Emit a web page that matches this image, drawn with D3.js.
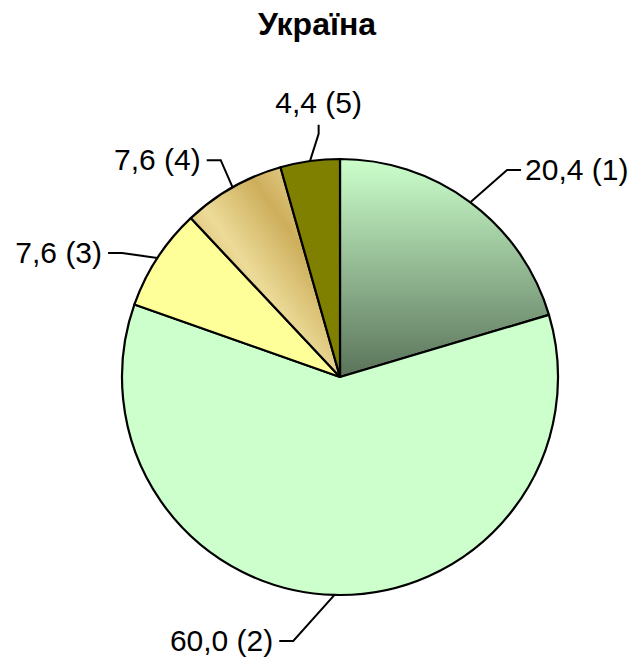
<!DOCTYPE html>
<html>
<head>
<meta charset="utf-8">
<script src="https://cdn.jsdelivr.net/npm/d3@7"></script>
<style>
  body { margin: 0; background: #fff; }
  svg { display: block; font-family: "Liberation Sans", Arial, sans-serif; }
</style>
</head>
<body>
<div id="chart"></div>
<script>
// Chart data.
const chartTitle = "Україна";
const sliceIds = ["1", "2", "3", "4", "5"];
const sliceValues = [20.4, 60.0, 7.6, 7.6, 4.4];
const sliceLabels = ["20,4 (1)", "60,0 (2)", "7,6 (3)", "7,6 (4)", "4,4 (5)"];

// Layout.
const W = 634, H = 659;
const cx = 340, cy = 377, R = 218;

// Where each leader line bends (angle shift in degrees, radius factor) and
// which way the label sits.
const labelLayout = [
  { dAng: 2.2, k: 1.22, side: "right" },
  { dAng: 8.6, k: 1.23, side: "left" },
  { dAng: -3.5, k: 1.15, side: "left" },
  { dAng: 0.7, k: 1.135, side: "left" },
  { dAng: 2.9, k: 1.12, side: "up" }
];

const svg = d3.select("#chart").append("svg")
  .attr("width", W)
  .attr("height", H);

const defs = svg.append("defs");

// Slice 1: light green fading down to grey-green.
const g1 = defs.append("linearGradient")
  .attr("id", "grad1")
  .attr("x1", 0).attr("y1", 0).attr("x2", 0).attr("y2", 1);
g1.append("stop").attr("offset", "0%").attr("stop-color", "#ccffcc");
g1.append("stop").attr("offset", "100%").attr("stop-color", "#5a735a");

// Slice 4: gold stripes.
const g4 = defs.append("linearGradient")
  .attr("id", "grad4")
  .attr("x1", 0).attr("y1", 1).attr("x2", 1).attr("y2", 0);
[["0%", "#ebd99a"], ["22%", "#cdae5c"], ["45%", "#ecdb98"],
 ["68%", "#cdae5c"], ["88%", "#e8d592"], ["100%", "#dcc47a"]]
  .forEach(function(s) {
    g4.append("stop").attr("offset", s[0]).attr("stop-color", s[1]);
  });

const sliceFills = ["url(#grad1)", "#ccffcc", "#ffff99", "url(#grad4)", "#808000"];

const color = d3.scaleOrdinal()
  .domain(sliceIds)
  .range(sliceFills);

const pie = d3.pie()
  .value(function(d) { return d.value; })
  .sort(null);

const slices = pie(sliceIds.map(function(id, i) {
  return { id: id, value: sliceValues[i], label: sliceLabels[i], layout: labelLayout[i] };
}));

const arc = d3.arc().innerRadius(0).outerRadius(R);

const g = svg.append("g")
  .attr("transform", "translate(" + cx + "," + cy + ")");

g.selectAll("path.slice")
  .data(slices)
  .enter()
  .append("path")
  .attr("class", "slice")
  .attr("d", arc)
  .attr("fill", function(d) { return color(d.data.id); })
  .attr("stroke", "#000")
  .attr("stroke-width", 2.2)
  .attr("stroke-linejoin", "round");

// Polar helper, angle in radians from 12 o'clock clockwise.
function polar(a, r) {
  return [r * Math.sin(a), -r * Math.cos(a)];
}

const fontSize = 30;
const legLen = 14;

slices.forEach(function(d) {
  const mid = (d.startAngle + d.endAngle) / 2;
  const lay = d.data.layout;
  const p0 = polar(mid, R);
  const p1 = polar(mid + lay.dAng * Math.PI / 180, R * lay.k);
  let p2, tx, ty, anchor;
  if (lay.side === "right") {
    p2 = [p1[0] + legLen, p1[1]];
    tx = p2[0] + 4; ty = p2[1] + 10; anchor = "start";
  } else if (lay.side === "left") {
    p2 = [p1[0] - legLen, p1[1]];
    tx = p2[0] - 6; ty = p2[1] + 10; anchor = "end";
  } else {
    p2 = [p1[0], p1[1] - 9];
    tx = p2[0]; ty = p2[1] - 12; anchor = "middle";
  }

  g.append("path")
    .attr("d", d3.line()([p0, p1, p2]))
    .attr("fill", "none")
    .attr("stroke", "#000")
    .attr("stroke-width", 2);

  g.append("text")
    .attr("x", tx)
    .attr("y", ty)
    .attr("text-anchor", anchor)
    .attr("font-size", fontSize)
    .attr("fill", "#000")
    .text(d.data.label);
});

// Title.
svg.append("text")
  .attr("x", 317)
  .attr("y", 35)
  .attr("text-anchor", "middle")
  .attr("font-size", 32)
  .attr("font-weight", "bold")
  .text(chartTitle);
</script>
</body>
</html>
